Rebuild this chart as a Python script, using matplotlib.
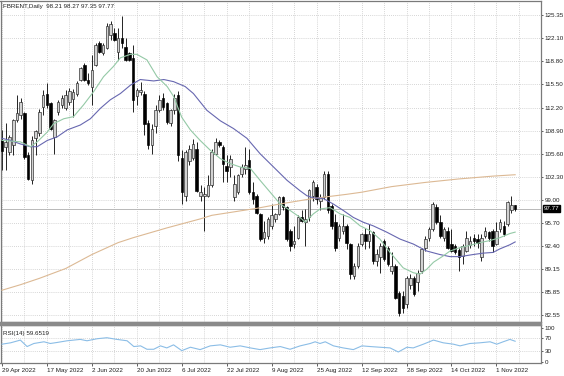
import numpy as np
import matplotlib
matplotlib.use('Agg')
import matplotlib.pyplot as plt
from matplotlib.patches import Rectangle

# --- data (daily bars, 29 Apr 2022 .. 8 Nov 2022) ---
opens = [107.5, 106.5, 105.9, 106.8, 110.4, 111.1, 111.4, 105.4, 101.8, 107.8,
         108.5, 112.3, 114.2, 112.8, 108.0, 111.6, 112.6, 112.1, 113.0, 113.4,
         114.2, 116.2, 118.3, 116.2, 115.2, 118.3, 121.4, 120.0, 120.7, 122.6,
         122.9, 120.2, 122.1, 120.9, 120.0, 119.3, 113.8, 114.4, 114.2, 110.0,
         106.8, 109.6, 111.9, 113.5, 112.8, 110.0, 111.8, 114.0, 105.0, 99.6,
         104.5, 105.0, 106.3, 99.5, 99.6, 99.6, 101.1, 105.6, 107.3, 106.6,
         103.9, 103.7, 99.4, 100.1, 102.7, 103.4, 104.7, 100.1, 99.6, 97.0,
         93.6, 93.9, 95.3, 96.3, 97.0, 99.4, 98.0, 94.6, 92.7, 93.6,
         96.5, 95.8, 96.5, 99.6, 100.8, 98.9, 99.4, 102.7, 98.2, 95.8,
         93.6, 94.6, 95.3, 92.7, 88.1, 89.6, 92.7, 94.2, 93.2, 94.4,
         90.3, 90.8, 93.2, 92.2, 88.9, 89.6, 85.7, 85.3, 84.1, 86.9,
         87.9, 87.3, 88.9, 92.2, 93.6, 94.8, 98.0, 95.8, 93.6, 94.6,
         92.7, 92.4, 91.9, 91.0, 91.7, 92.5, 93.6, 93.4, 90.8, 93.9,
         94.4, 94.6, 92.7, 94.8, 95.3, 95.6, 97.6, 98.21]
highs = [109.0, 110.0, 108.3, 110.6, 114.0, 113.5, 111.6, 105.9, 108.2, 109.0,
         112.0, 114.7, 115.7, 113.0, 110.6, 113.3, 114.0, 114.7, 115.0, 114.9,
         116.0, 118.0, 118.6, 117.1, 119.7, 121.4, 121.7, 121.4, 124.3, 124.5,
         123.6, 123.6, 125.3, 122.1, 120.2, 121.2, 115.0, 115.9, 114.5, 110.4,
         109.9, 112.5, 114.0, 114.3, 113.0, 112.0, 114.2, 114.6, 106.1, 106.2,
         106.9, 107.7, 107.3, 101.1, 100.8, 102.5, 106.3, 107.8, 107.5, 106.8,
         105.4, 105.4, 102.5, 102.7, 104.2, 106.6, 106.3, 101.5, 99.9, 97.2,
         96.0, 96.5, 98.4, 97.2, 99.6, 99.6, 98.2, 94.8, 95.3, 96.8,
         97.5, 97.7, 100.6, 101.8, 101.3, 99.9, 103.2, 103.2, 98.4, 97.0,
         95.6, 97.0, 95.6, 92.9, 90.0, 92.9, 94.3, 95.0, 95.6, 94.6,
         92.0, 92.9, 93.4, 92.4, 91.5, 89.8, 86.0, 86.0, 88.2, 88.4,
         88.2, 89.0, 92.2, 93.9, 95.1, 98.7, 98.4, 96.8, 95.1, 95.1,
         94.8, 92.7, 92.2, 92.7, 94.6, 93.9, 94.1, 94.1, 94.1, 95.1,
         94.6, 94.8, 95.8, 96.3, 96.0, 98.9, 99.5, 98.27]
lows = [103.3, 103.3, 105.4, 105.4, 110.2, 110.6, 104.9, 101.8, 101.3, 105.4,
        108.2, 111.1, 112.1, 109.0, 105.6, 111.1, 112.2, 111.8, 112.5, 110.9,
        113.9, 116.0, 116.0, 115.4, 112.6, 118.1, 120.0, 119.7, 120.5, 121.9,
        121.7, 119.0, 120.7, 118.8, 118.8, 111.6, 112.6, 114.0, 108.3, 106.3,
        105.6, 108.6, 111.5, 111.8, 109.8, 109.6, 111.3, 104.6, 98.4, 98.9,
        104.0, 104.7, 100.1, 98.9, 94.6, 99.4, 100.8, 105.4, 106.6, 101.5,
        101.5, 102.3, 98.9, 99.9, 102.3, 102.7, 99.9, 98.4, 97.0, 93.2,
        92.9, 93.4, 94.8, 95.8, 96.8, 97.5, 93.2, 91.7, 92.2, 93.4,
        95.8, 92.4, 96.0, 98.9, 98.4, 97.5, 99.2, 97.2, 94.8, 91.7,
        93.2, 94.1, 92.0, 87.7, 87.7, 89.3, 92.4, 92.0, 92.2, 89.8,
        89.5, 88.6, 90.3, 89.6, 88.4, 84.8, 82.4, 82.8, 83.6, 86.3,
        85.3, 86.0, 88.6, 91.7, 93.2, 94.6, 95.6, 93.6, 93.2, 92.0,
        91.5, 91.3, 88.9, 89.8, 91.5, 92.2, 92.4, 92.2, 90.3, 93.6,
        93.2, 91.5, 92.5, 94.4, 93.9, 95.3, 97.2, 97.35]
closes = [106.0, 107.3, 108.0, 110.4, 111.4, 113.0, 105.1, 102.0, 107.5, 108.8,
          111.6, 114.0, 112.6, 109.2, 110.4, 113.0, 113.5, 114.0, 114.6, 114.4,
          115.7, 117.8, 116.2, 115.7, 117.6, 121.2, 120.2, 121.2, 123.8, 124.1,
          121.9, 122.1, 121.4, 119.0, 119.0, 113.3, 114.7, 114.7, 109.9, 106.8,
          109.2, 111.9, 113.3, 112.3, 110.2, 111.8, 113.5, 105.4, 100.1, 105.9,
          106.3, 107.0, 100.3, 100.1, 99.9, 101.1, 105.9, 107.3, 106.8, 104.2,
          103.2, 104.9, 101.3, 102.5, 103.7, 104.0, 100.1, 99.2, 97.2, 93.4,
          94.4, 96.3, 96.8, 97.0, 99.4, 98.0, 93.4, 92.4, 93.2, 96.5,
          96.0, 96.3, 100.4, 101.5, 99.2, 99.4, 102.7, 97.5, 95.3, 92.2,
          95.3, 95.3, 92.9, 88.4, 89.6, 92.4, 94.1, 93.2, 94.2, 90.3,
          91.3, 92.4, 90.5, 89.8, 89.6, 85.0, 82.9, 83.6, 87.9, 87.9,
          85.5, 88.6, 92.0, 93.4, 94.8, 98.4, 95.8, 93.9, 94.8, 92.2,
          91.7, 91.5, 90.8, 92.4, 93.6, 93.2, 93.2, 92.9, 93.6, 94.6,
          93.6, 92.4, 94.6, 95.8, 94.1, 98.7, 98.3, 97.77]

# moving averages, sampled along the chart (bar index, price)
ma_fast_idx = [0, 4.9, 7.6, 9.4, 12.1, 13.8, 16.5, 19.1, 21.8, 24.5, 27.1, 29.8, 31.6, 34.3,
               36.0, 38.7, 41.4, 44.1, 45.8, 48.0, 50.3, 52.9, 55.6, 58.3, 60.9, 63.6, 66.3,
               68.9, 71.6, 74.3, 76.9, 79.6, 80.9, 83.1, 84.9, 87.6, 90.3, 92.9, 95.6, 98.3,
               100.9, 103.6, 107.1, 109.8, 111.6, 113.4, 115.2, 117.8, 119.6, 122.3, 124.9,
               127.6, 130.3, 132.9, 135.6, 137.0]
ma_fast_val = [107.5, 107.3, 106.6, 107.3, 108.7, 109.9, 110.6, 110.9, 112.6, 114.5, 116.6,
               118.1, 119.3, 119.8, 119.8, 119.0, 116.6, 115.2, 113.8, 110.8, 109.0, 107.5,
               106.1, 104.9, 104.2, 103.7, 103.5, 101.8, 100.1, 98.4, 97.5, 96.5, 95.8, 97.0,
               97.7, 97.9, 97.0, 96.5, 95.3, 94.6, 93.4, 91.5, 89.3, 88.6, 88.4, 89.1, 90.1,
               91.0, 91.7, 92.2, 92.5, 92.9, 93.2, 93.6, 94.2, 94.4]
ma_mid_idx = [0, 2.3, 4.9, 7.6, 9.4, 12.1, 14.7, 17.4, 20.9, 23.6, 26.3, 28.9, 31.6, 34.3,
              36.9, 40.5, 43.2, 45.8, 48.9, 51.1, 54.7, 58.3, 61.8, 65.4, 68.9, 72.5, 76.1,
              79.6, 81.4, 83.1, 85.8, 88.5, 91.1, 93.8, 96.5, 99.1, 102.7, 106.3, 109.8,
              113.4, 116.9, 119.6, 122.3, 125.8, 128.5, 131.1, 132.9, 135.6, 137.0]
ma_mid_val = [107.8, 107.5, 107.0, 106.6, 106.6, 107.5, 108.0, 109.0, 109.7, 110.6, 112.1,
              113.3, 114.2, 115.4, 116.2, 116.0, 116.2, 115.9, 115.2, 114.2, 111.8, 110.3,
              109.2, 107.8, 105.6, 103.7, 101.8, 100.3, 99.6, 99.3, 99.2, 98.4, 97.5, 96.5,
              95.8, 95.3, 94.4, 93.4, 92.7, 91.7, 91.2, 90.9, 90.9, 91.2, 91.4, 91.5, 92.0,
              92.6, 93.0]
ma_slow_idx = [0, 5, 10, 17, 24, 31, 35, 44, 53, 56, 68, 74, 83, 92, 96, 104, 113, 122, 131, 137]
ma_slow_val = [86.1, 86.9, 87.8, 89.2, 91.2, 92.9, 93.6, 95.0, 96.3, 96.8, 97.8, 98.4, 99.2,
               99.8, 100.1, 100.9, 101.5, 102.0, 102.4, 102.6]

# RSI(14), sampled
rsi_idx = [0, 2.3, 4.9, 6.7, 8.5, 11.2, 12.9, 14.7, 17.4, 20.9, 22.7, 25.4, 28.0, 30.7, 33.4,
           35.2, 37.0, 38.7, 40.5, 42.3, 44.0, 45.8, 48.0, 50.3, 52.9, 55.6, 58.3, 60.9, 63.6,
           66.3, 68.9, 71.6, 74.3, 76.9, 79.6, 82.3, 83.6, 84.9, 86.3, 88.5, 91.1, 93.8, 96.1,
           98.3, 100.9, 103.6, 105.8, 108.1, 109.8, 112.5, 115.2, 117.8, 120.5, 122.3, 124.9,
           127.6, 130.3, 132.1, 133.8, 135.6, 137.0]
rsi_val = [51, 55, 63, 44, 53, 58, 53, 56, 61, 65, 61, 67, 70, 65, 61, 44, 46, 36, 36, 46, 40,
           49, 32, 42, 35, 46, 49, 42, 46, 40, 35, 40, 44, 36, 46, 53, 58, 53, 58, 46, 40, 35,
           46, 44, 42, 40, 28, 42, 40, 51, 63, 55, 51, 46, 53, 55, 58, 51, 58, 65, 59.65]

price_ticks = [125.35, 122.10, 118.80, 115.50, 112.20, 108.90, 105.60, 102.30, 99.00,
               95.70, 92.40, 89.15, 85.85, 82.55]
date_labels = ['29 Apr 2022', '17 May 2022', '2 Jun 2022', '20 Jun 2022', '6 Jul 2022',
               '22 Jul 2022', '9 Aug 2022', '25 Aug 2022', '12 Sep 2022', '28 Sep 2022',
               '14 Oct 2022', '1 Nov 2022']
last_price = 97.77

# --- figure ---
plt.rcParams['font.family'] = ['Liberation Sans', 'DejaVu Sans']
FS = 4.5
W, H = 564, 376
fig = plt.figure(figsize=(W / 100, H / 100), dpi=100)


def px_box(x0, y0, x1, y1):
    return [x0 / W, 1 - y1 / H, (x1 - x0) / W, (y1 - y0) / H]


ax = fig.add_axes(px_box(0.5, 1, 541, 322))
ax_rsi = fig.add_axes(px_box(0.5, 325, 541, 363), sharex=ax)

n = len(opens)
x = np.arange(n)
o = np.array(opens)
h = np.array(highs)
l = np.array(lows)
c = np.array(closes)
up = c >= o

grid_kw = dict(color='#c8c8c8', linestyle=(0, (1, 1.5)), linewidth=0.6, zorder=0)
for gx in range(0, 144, 6):
    ax.axvline(gx, **grid_kw)
    ax_rsi.axvline(gx, **grid_kw)
for gy in price_ticks:
    ax.axhline(gy, **grid_kw)
for gy in (70, 30):
    ax_rsi.axhline(gy, **grid_kw)

# bid line
ax.axhline(last_price, color='#b8b8b8', linewidth=0.7, zorder=1)

# candles
ax.vlines(x, l, h, color='black', linewidth=0.6, zorder=2)
body_low = np.minimum(o, c)
body_h = np.maximum(np.abs(c - o), 0.08)
ax.bar(x[up], body_h[up], bottom=body_low[up], width=0.68,
       color='#d2d2d2', edgecolor='#202020', linewidth=0.45, zorder=3)
ax.bar(x[~up], body_h[~up], bottom=body_low[~up], width=0.68,
       color='black', edgecolor='black', linewidth=0.45, zorder=3)

# moving averages
ax.plot(ma_slow_idx, ma_slow_val, color='#dcb994', linewidth=0.8, zorder=4)
ax.plot(ma_mid_idx, ma_mid_val, color='#6767b0', linewidth=0.8, zorder=4)
ax.plot(ma_fast_idx, ma_fast_val, color='#94c9a6', linewidth=0.8, zorder=4)

ax.set_xlim(-0.4, 143.9)
ax.set_ylim(81.56, 127.42)

ax.yaxis.tick_right()
ax.set_yticks(price_ticks)
ax.set_yticklabels([f'{t:.2f}' for t in price_ticks])
ax.tick_params(axis='y', which='both', length=1.5, width=0.5, pad=1.0, labelsize=FS,
               colors='#202020')
ax.tick_params(axis='x', which='both', length=0, labelbottom=False)
for s in ax.spines.values():
    s.set_color('#7a7a7a')
    s.set_linewidth(0.9)

# last price tag
ax.annotate(f'{last_price:.2f}', xy=(1.0, last_price), xycoords=('axes fraction', 'data'),
            xytext=(2.0, 0), textcoords='offset points', va='center', ha='left',
            fontsize=FS, color='white',
            bbox=dict(boxstyle='square,pad=0.12', fc='black', ec='black'))

ax.text(0.005, 0.982, 'FBRENT,Daily  98.21 98.27 97.35 97.77', transform=ax.transAxes,
        fontsize=FS, color='#202020', va='center', ha='left')

# RSI panel
ax_rsi.plot(rsi_idx, rsi_val, color='#8bbde6', linewidth=0.8, zorder=3)
ax_rsi.set_ylim(-4.4, 107.4)
ax_rsi.yaxis.tick_right()
ax_rsi.set_yticks([100, 70, 30, 0])
ax_rsi.set_yticklabels(['100', '70', '30', '0'])
ax_rsi.tick_params(axis='y', length=1.5, width=0.5, pad=1.0, labelsize=FS, colors='#202020')
ax_rsi.set_xticks(np.arange(0, 133, 12))
ax_rsi.set_xticklabels(date_labels, ha='left')
ax_rsi.tick_params(axis='x', length=2, width=0.5, pad=1.5, labelsize=FS, colors='#202020')
for s in ax_rsi.spines.values():
    s.set_color('#7a7a7a')
    s.set_linewidth(0.9)
ax_rsi.text(0.005, 0.78, 'RSI(14) 59.6519', transform=ax_rsi.transAxes,
            fontsize=FS, color='#202020', va='center', ha='left')

# separator band between panels
fig.patches.append(Rectangle((0, 1 - 325 / H), 541 / W, 3 / H, transform=fig.transFigure,
                             color='#8a8a8a', zorder=5))

fig.savefig('out.png', dpi=100, facecolor='white')
